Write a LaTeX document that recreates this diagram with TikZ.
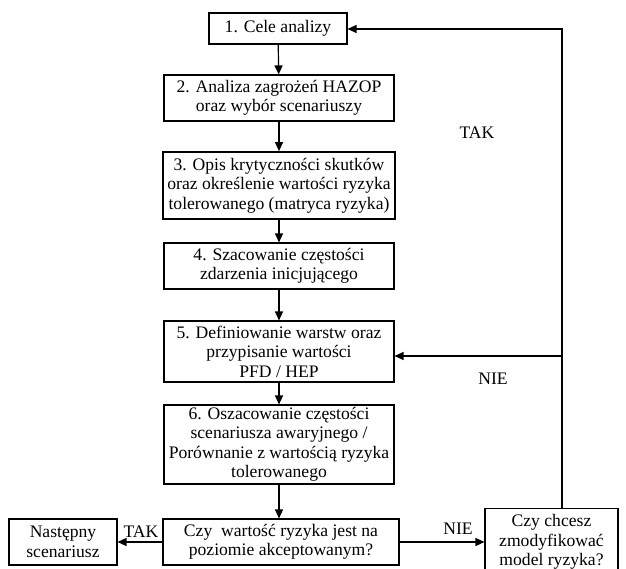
\documentclass[tikz,border=0pt]{standalone}
\usepackage{fontspec}
\setmainfont{Liberation Serif}
\usetikzlibrary{arrows.meta}
\tikzset{
  x=1bp, y=-1bp,
  box/.style={draw, line width=1.1bp, align=center, inner sep=0pt,
    font=\fontsize{17.6bp}{19.5bp}\selectfont},
  lbl/.style={font=\fontsize{17.6bp}{19.5bp}\selectfont, inner sep=0pt},
  conn/.style={line width=1.2bp, -{Triangle[length=9bp,width=8bp]}}
}
\begin{document}
\begin{tikzpicture}
\useasboundingbox (0,0) rectangle (626,569);
\node[box, minimum width=138bp, minimum height=31bp] (b1) at (278,28.5) {1. Cele analizy};
\node[box, minimum width=230bp, minimum height=46bp] (b2) at (279,98) {2. Analiza zagrożeń HAZOP\\oraz wybór scenariuszy};
\node[box, line width=1.7bp, minimum width=232bp, minimum height=67bp] (b3) at (279,185.5) {3. Opis krytyczności skutków\\oraz określenie wartości ryzyka\\tolerowanego (matryca ryzyka)};
\node[box, minimum width=230bp, minimum height=46bp] (b4) at (279,266) {4. Szacowanie częstości\\zdarzenia inicjującego};
\node[box, minimum width=230bp, minimum height=61bp] (b5) at (279,351.5) {5. Definiowanie warstw oraz\\przypisanie wartości\\PFD / HEP};
\node[box, minimum width=230bp, minimum height=79bp] (b6) at (279,444.5) {6. Oszacowanie częstości\\scenariusza awaryjnego /\\Porównanie z wartością ryzyka\\tolerowanego};
\node[box, minimum width=236bp, minimum height=46bp] (dec) at (281,542) {Czy\ \ wartość ryzyka jest na\\poziomie akceptowanym?};
\node[box, minimum width=108bp, minimum height=46bp] (nx) at (63,542) {Następny\\scenariusz};
\node[box, minimum width=133bp, minimum height=67bp] (rb) at (551.5,542) {Czy chcesz\\zmodyfikować\\model ryzyka?};

\draw[conn] (b1) -- (b2);
\draw[conn] (b2) -- (b3);
\draw[conn] (b3) -- (b4);
\draw[conn] (b4) -- (b5);
\draw[conn] (b5) -- (b6);
\draw[conn] (b6) -- (b6 |- dec.north);
\draw[conn] (dec) -- (nx);
\draw[conn] (dec.east |- nx) -- (rb.west |- nx);

\coordinate (top) at (562,29);
\coordinate (j) at (562,356);
\draw[conn] (rb.north -| top) -- (top) -- (top -| b1.east);
\draw[conn] (j) -- (j -| b5.east);

\node[lbl] (t1) at (477,133) {TAK};
\node[lbl] (n1) at (493,379) {NIE};
\node[lbl] (n2) at (458,529) {NIE};
\node[lbl] (t2) at (141,532) {TAK};
\end{tikzpicture}
\end{document}
